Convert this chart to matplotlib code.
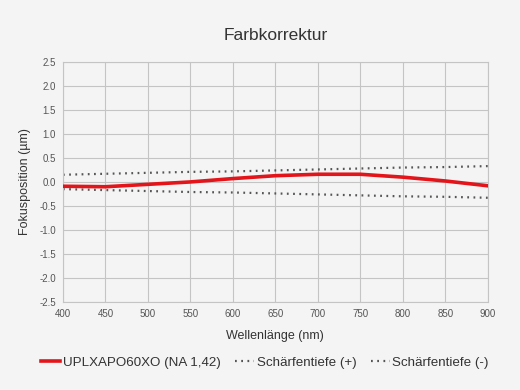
import numpy as np
import matplotlib.pyplot as plt

plt.rcParams['font.family'] = ['Liberation Sans', 'DejaVu Sans']

wavelength = [400, 450, 500, 550, 600, 650, 700, 750, 800, 850, 900]
focus = [-0.09, -0.10, -0.05, 0.00, 0.07, 0.13, 0.16, 0.16, 0.10, 0.02, -0.08]
dof_plus = [0.15, 0.17, 0.19, 0.21, 0.22, 0.24, 0.26, 0.28, 0.30, 0.31, 0.33]
dof_minus = [-0.15, -0.17, -0.19, -0.21, -0.22, -0.24, -0.26, -0.28, -0.30, -0.31, -0.33]

bg = '#f4f4f4'
fig = plt.figure(figsize=(5.2, 3.9), dpi=100, facecolor=bg)
ax = fig.add_axes([0.121, 0.226, 0.817, 0.615], facecolor=bg)

ax.plot(wavelength, focus, color='#e3151a', lw=2.6, label='UPLXAPO60XO (NA 1,42)', zorder=3)
ax.plot(wavelength, dof_plus, color='#555555', lw=1.6, ls=(0, (0.8, 2.0)), label='Schärfentiefe (+)')
ax.plot(wavelength, dof_minus, color='#555555', lw=1.6, ls=(0, (0.8, 2.0)), label='Schärfentiefe (-)')

ax.set_xlim(400, 900)
ax.set_ylim(-2.5, 2.5)
ax.set_xticks(np.arange(400, 901, 50))
ax.set_yticks(np.arange(-2.5, 2.51, 0.5))
ax.set_yticklabels([f'{v:.1f}' for v in np.arange(-2.5, 2.51, 0.5)])
ax.grid(True, color='#c4c4c4', lw=0.8)
ax.set_axisbelow(True)
for s in ax.spines.values():
    s.set_color('#c4c4c4')
    s.set_linewidth(0.8)
ax.tick_params(length=0, labelsize=7, colors='#555555', pad=5)

ax.set_xlabel('Wellenlänge (nm)', fontsize=9, color='#333333', labelpad=8)
ax.set_ylabel('Fokusposition (µm)', fontsize=9, color='#333333', labelpad=6)
fig.text(0.53, 0.908, 'Farbkorrektur', ha='center', va='center', fontsize=12.5, color='#333333')

fig.legend(loc='center', bbox_to_anchor=(0.51, 0.07), ncol=3, frameon=False,
           fontsize=9.6, handlelength=1.4, handletextpad=0.2, columnspacing=1.1,
           labelcolor='#333333')

fig.savefig('out.png', dpi=100, facecolor=bg)
